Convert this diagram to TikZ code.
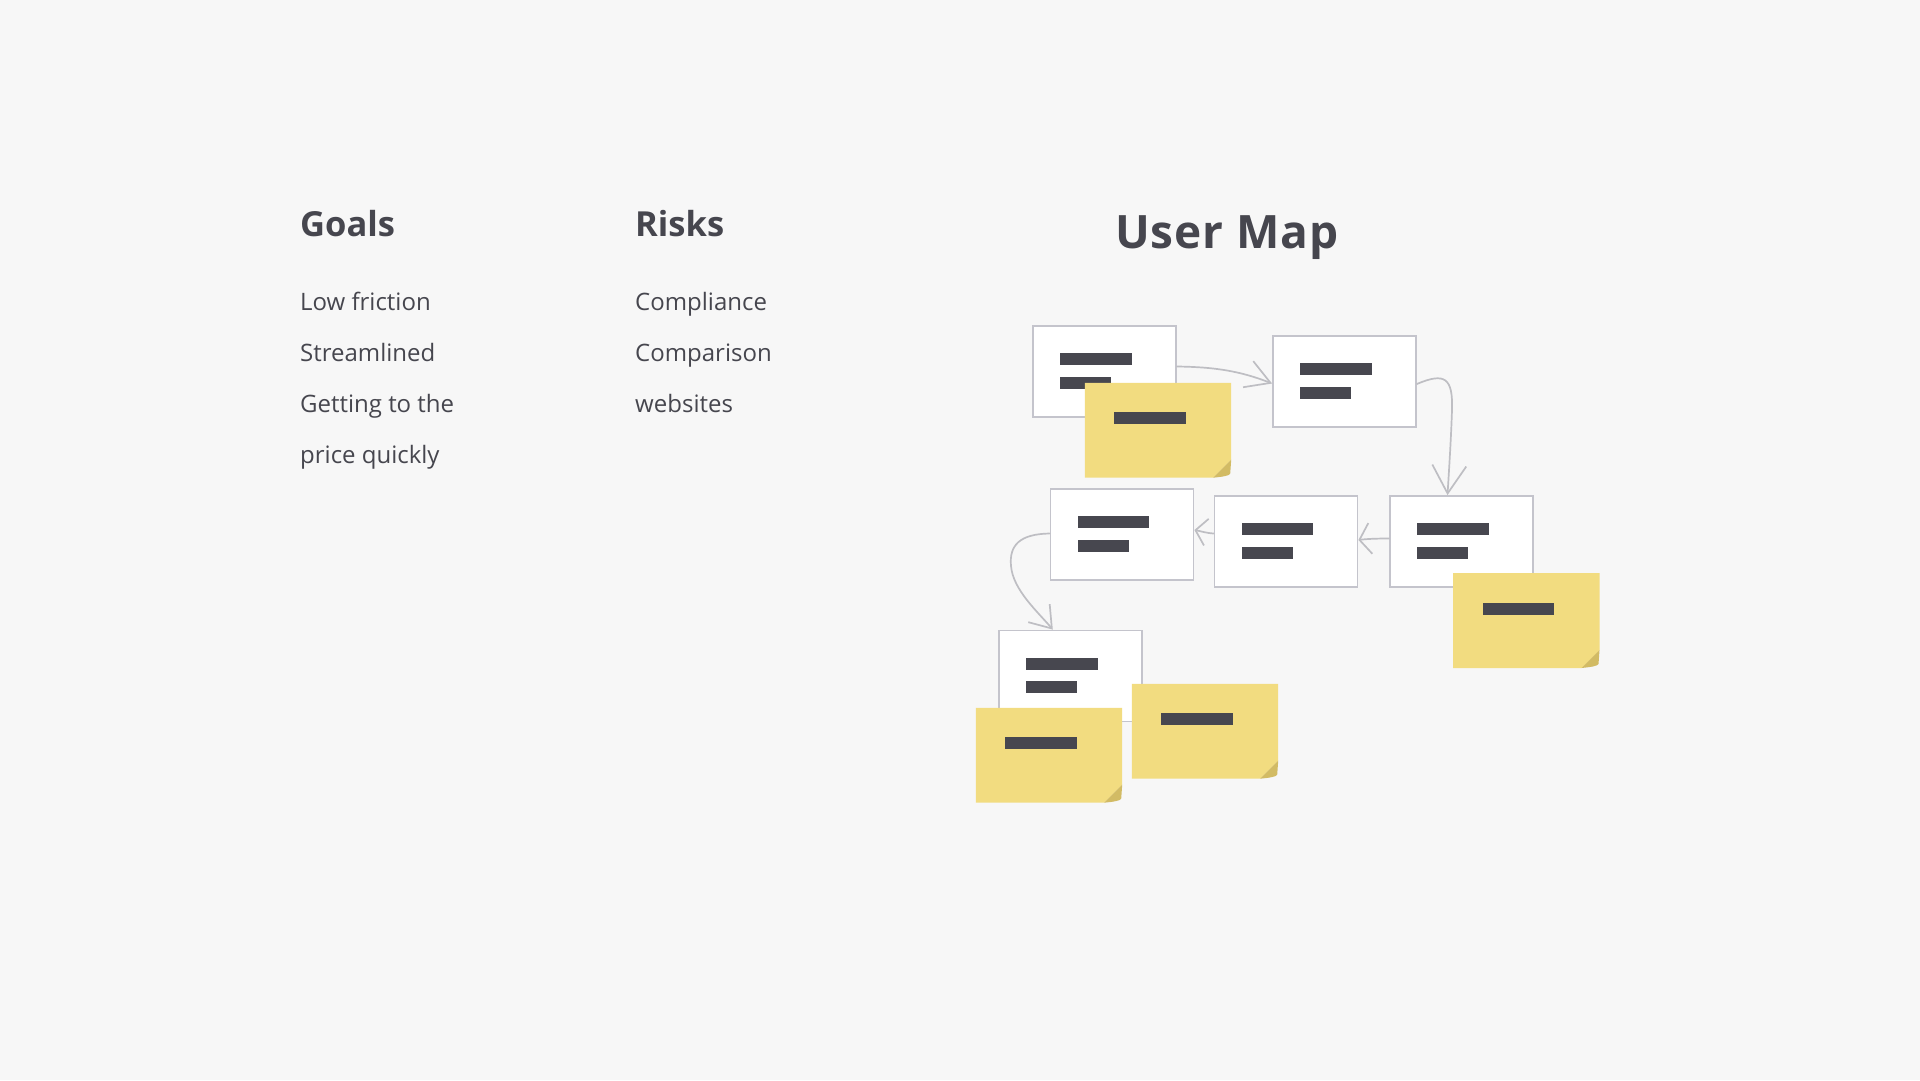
\documentclass[tikz,border=0pt]{standalone}
\usepackage{fontspec}
\setmainfont{Open Sans}
\newfontfamily\titlefont[LetterSpace=2]{Open Sans}
\usetikzlibrary{arrows.meta}
\definecolor{bgc}{HTML}{F7F7F7}
\definecolor{textc}{HTML}{46464E}
\definecolor{cardline}{HTML}{C4C4CC}
\definecolor{arrowc}{HTML}{BEBEC3}
\definecolor{stickyc}{HTML}{F2DC80}
\definecolor{foldc}{HTML}{D2BB64}
\definecolor{barc}{HTML}{47474F}
\tikzset{
  card/.style={rectangle, draw=cardline, fill=white, line width=1.8pt, minimum width=143pt, minimum height=91pt, inner sep=0pt},
  stickybox/.style={rectangle, minimum width=146pt, minimum height=94.5pt, inner sep=0pt},
  heading/.style={anchor=base west, inner sep=0pt, text=textc, font=\bfseries\fontsize{34.5}{40}\selectfont},
  title/.style={anchor=base west, inner sep=0pt, text=textc, font=\titlefont\bfseries\fontsize{46}{52}\selectfont},
  item/.style={anchor=base west, inner sep=0pt, text=textc, font=\fontsize{24}{28}\selectfont},
  conn/.style={draw=arrowc, line width=1.7pt, line cap=round, line join=round},
}
\newcommand\usercard[3]{%
  \node[card] (#1) at ({#2+71.5},{#3+45.5}) {};
  \fill[barc] ([shift={(28,28)}]#1.north west) rectangle ++(71.5,12);
  \fill[barc] ([shift={(28,51.5)}]#1.north west) rectangle ++(51,12);
}
\newcommand\stickynote[3]{%
  \node[stickybox] (#1) at ({#2+73},{#3+47.25}) {};
  \fill[stickyc] (#1.north west) -- (#1.north east) -- ([shift={(0,-18)}]#1.south east) -- ([shift={(-18,0)}]#1.south east) -- (#1.south west) -- cycle;
  \fill[foldc] ([shift={(0,-18)}]#1.south east) -- ([shift={(-18,0)}]#1.south east) .. controls ([shift={(-8,-1)}]#1.south east) and ([shift={(-2,-2)}]#1.south east) .. ([shift={(-1,-4)}]#1.south east) -- cycle;
  \fill[barc] ([shift={(29.5,29.5)}]#1.north west) rectangle ++(71.5,12);
}
\begin{document}
\begin{tikzpicture}[x=1pt,y=-1pt]
\fill[bgc] (0,0) rectangle (1920,1080);
\useasboundingbox (0,0) rectangle (1920,1080);

% left columns
\node[heading] (goals) at (300,236) {Goals};
\node[item] (g1) at (300,310.7) {Low friction};
\node[item] (g2) at (300,361.5) {Streamlined};
\node[item] (g3) at (300,412.3) {Getting to the};
\node[item] (g4) at (300,463) {price quickly};

\node[heading] (risks) at (635,236) {Risks};
\node[item] (r1) at (635,310.7) {Compliance};
\node[item] (r2) at (635,361.5) {Comparison};
\node[item] (r3) at (635,412.3) {websites};

\node[title] (umap) at (1115,248.3) {User Map};

% cards
\usercard{c1}{1033}{326}
\usercard{c2}{1273}{336}
\usercard{c3}{1050.5}{489}
\usercard{c4}{1214.5}{496}
\usercard{c5}{1390}{496}
\usercard{c6}{999.3}{630.5}

% connectors
\draw[conn, -{Straight Barb[length=24pt,width=28pt]}]
  ([shift={(0,-5)}]c1.east) .. controls (1215,367) and (1240,371) .. ([shift={(0,2)}]c2.west);
\draw[conn, -{Straight Barb[length=28pt,width=34pt]}]
  ([shift={(0,2.5)}]c2.east) .. controls (1445,372) and (1453,378) .. (1452,410)
  .. controls (1451,440) and (1449,470) .. ([shift={(-14,0)}]c5.north);
\draw[conn, -{Straight Barb[length=11pt,width=31pt]}]
  ([shift={(0,-3)}]c5.west) .. controls (1375,538.5) and (1366,539) .. ([shift={(0,-1.5)}]c4.east);
\draw[conn, -{Straight Barb[length=11pt,width=27pt]}]
  ([shift={(0,-8)}]c4.west) .. controls (1206,533) and (1200,531) .. ([shift={(0,-4.5)}]c3.east);
\draw[conn, -{Straight Barb[length=20pt,width=28pt]}]
  ([shift={(0,-1)}]c3.west) .. controls (1020,534) and (1009,545) .. (1011,566)
  .. controls (1013,590) and (1038,612) .. ([shift={(-18,0)}]c6.north);

% sticky notes
\stickynote{s1}{1085}{383}
\stickynote{s2}{1453.3}{573.3}
\stickynote{s3}{976}{708}
\stickynote{s4}{1132}{684}
\end{tikzpicture}
\end{document}
